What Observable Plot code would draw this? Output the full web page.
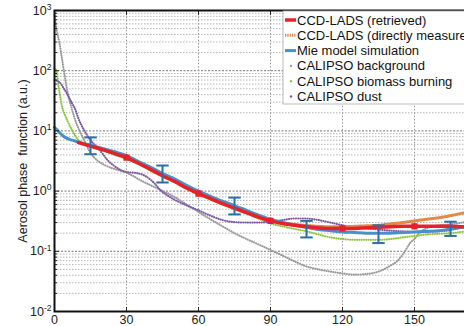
<!DOCTYPE html>
<html><head><meta charset="utf-8">
<script src="https://cdn.jsdelivr.net/npm/d3@7"></script>
<script src="https://cdn.jsdelivr.net/npm/@observablehq/plot@0.6"></script>
<style>
html,body{margin:0;padding:0;overflow:hidden;background:#fff;width:464px;height:326px}
#chart svg{max-width:none !important;display:block}
</style></head><body><div id="chart"></div>
<script>
// ---- data ----
const mieAngle = [0,1,2,4,6,8,10,12,15,20,25,30,35,40,45,50,55,60,65,70,75,80,85,90,95,100,105,110,115,120,125,130,135,140,145,150,155,160,165,170,175,180];
const mieValue = [11.5,10.5,9.5,8.0,7.3,6.9,6.5,6.2,5.8,5.1,4.5,3.9,3.1,2.5,1.96,1.6,1.25,1.0,0.82,0.68,0.575,0.48,0.40,0.34,0.30,0.27,0.25,0.23,0.22,0.21,0.205,0.2,0.2,0.2,0.205,0.21,0.215,0.22,0.235,0.25,0.26,0.27];
const mieErrAngle = [15,45,75,105,135,165];
const mieErrLow  = [4.1,1.39,0.41,0.17,0.137,0.18];
const mieErrHigh = [7.8,2.66,0.78,0.32,0.27,0.31];

const retAngle = [10,15,20,25,30,35,40,45,50,55,60,65,70,75,80,85,90,95,100,105,110,115,120,125,130,135,140,145,150,155,160,165,170,175,180];
const retValue = [6.4,5.6,4.9,4.2,3.6,2.9,2.3,1.8,1.45,1.13,0.91,0.75,0.62,0.52,0.44,0.37,0.32,0.29,0.27,0.255,0.245,0.24,0.24,0.24,0.245,0.25,0.255,0.26,0.26,0.26,0.26,0.26,0.255,0.255,0.25];
const retMarkAngle = [30,60,90,120,150];
const retMarkValue = [3.6,0.91,0.32,0.24,0.26];

const measAngle = [90,100,110,115,120,125,130,135,140,145,150,155,160,165,170,175,180];
const measValue = [0.32,0.28,0.26,0.255,0.255,0.26,0.265,0.27,0.285,0.30,0.32,0.34,0.36,0.39,0.43,0.47,0.5];

const bgAngle = [0,0.5,1,2,3,4,5,6,7,8,10,12,15,18,21,24,28,32,36,42,50,55,60,65,70,75,80,85,90,95,100,105,110,115,120,125,130,135,140,143,146,148,150,152.5,155,160,165,170,175,180];
const bgValue = [850,600,450,300,170,95,55,35,25,18,11,7.5,4.3,3.2,2.7,2.4,2.15,1.85,1.5,1.15,0.8,0.6,0.45,0.34,0.26,0.2,0.16,0.13,0.105,0.085,0.068,0.056,0.05,0.046,0.043,0.041,0.042,0.046,0.058,0.07,0.1,0.135,0.16,0.21,0.24,0.27,0.28,0.3,0.32,0.34];

const bbAngle = [0,0.8,1.7,2.5,3.3,4,5.3,7.5,9.5,12,15,20,25,30,35,40,45,50,55,60,65,70,75,80,85,90,95,100,105,110,115,120,125,130,135,140,145,150,155,160,165,170,175,180];
const bbValue = [110,100,55,35,24,20,15,10,7.4,6.3,5.5,4.7,4.0,3.4,2.8,2.2,1.75,1.4,1.1,0.88,0.72,0.6,0.5,0.42,0.35,0.29,0.26,0.235,0.215,0.19,0.17,0.16,0.155,0.155,0.155,0.16,0.17,0.18,0.19,0.195,0.2,0.21,0.22,0.23];

const dustAngle = [0,1,2,3,4,5,6,7.5,9,10,11,12.5,14,16,18,20,22,25,28,31,34,37,40,42,44,47,50,55,60,65,70,75,80,85,90,95,100,105,110,115,120,125,130,135,140,145,150,155,160,165,170,175,180];
const dustValue = [70,68,65,58,50,43,36,28,21,16,13,10,8,6.3,5.2,4.2,3.3,2.6,2.2,2.05,2.0,1.85,1.55,1.3,1.05,0.85,0.72,0.58,0.48,0.39,0.33,0.305,0.30,0.30,0.31,0.33,0.35,0.35,0.33,0.30,0.27,0.25,0.24,0.23,0.22,0.215,0.21,0.21,0.215,0.225,0.25,0.27,0.29];

const xTicks = [0,30,60,90,120,150,180];
const xLabels = [0,30,60,90,120,150];
const yMajor = [0.01,0.1,1,10,100,1000];
const yMinor = [];
for (let e = -2; e <= 2; e++) for (let k = 2; k <= 9; k++) yMinor.push(k * Math.pow(10, e));

const legendLabels = ["CCD-LADS (retrieved)","CCD-LADS (directly measured)","Mie model simulation","CALIPSO background","CALIPSO biomass burning","CALIPSO dust"];
const colors = {ret:"#e8202a", meas:"#e08a4c", mie:"#4a90c8", mieErr:"#2b6fa6", bg:"#9a9a9a", bb:"#8dc63f", dust:"#7a58a6"};

const pts = (a, v) => a.map((x, i) => ({x, y: v[i]}));
const mie = pts(mieAngle, mieValue);
const ret = pts(retAngle, retValue);
const meas = pts(measAngle, measValue);
const bg = pts(bgAngle, bgValue);
const bb = pts(bbAngle, bbValue);
const dust = pts(dustAngle, dustValue);
const mieErr = mieErrAngle.map((x, i) => ({x, lo: mieErrLow[i], hi: mieErrHigh[i]}));
const retMarks = retMarkAngle.map((x, i) => ({x, y: retMarkValue[i], lo: retMarkValue[i]*0.88, hi: retMarkValue[i]*1.12}));

const hline = {draw(c, s){ const r = Math.sqrt(s); c.moveTo(-r, 0); c.lineTo(r, 0); }};
const dotted = {strokeWidth: 2.1, strokeDasharray: "0.1,2.2", strokeLinecap: "round", curve: "monotone-x"};

const plot = Plot.plot({
  width: 500, height: 326,
  marginLeft: 54, marginRight: 14, marginTop: 10, marginBottom: 15,
  style: {fontFamily: "Arial, 'Liberation Sans', sans-serif", fontSize: "12.5px", color: "#222", background: "#fff", overflow: "hidden"},
  x: {domain: [0, 180]},
  y: {type: "log", domain: [0.01, 1000]},
  marks: [
    Plot.ruleY(yMinor, {stroke: "#b5b5b5", strokeDasharray: "1.5,1.5", strokeWidth: 1}),
    Plot.ruleY(yMajor, {stroke: "#777", strokeDasharray: "2,1.5", strokeWidth: 1}),
    Plot.ruleX(xTicks.slice(1, -1), {stroke: "#999", strokeDasharray: "1.5,1.8", strokeWidth: 1}),
    Plot.line(bg, {x: "x", y: "y", stroke: colors.bg, ...dotted}),
    Plot.line(bb, {x: "x", y: "y", stroke: colors.bb, ...dotted}),
    Plot.line(dust, {x: "x", y: "y", stroke: colors.dust, ...dotted}),
    Plot.line(meas, {x: "x", y: "y", stroke: colors.meas, strokeWidth: 3, strokeDasharray: "1.3,1", curve: "monotone-x"}),
    Plot.line(mie, {x: "x", y: "y", stroke: colors.mie, strokeWidth: 3, curve: "monotone-x"}),
    Plot.line(ret, {x: "x", y: "y", stroke: colors.ret, strokeWidth: 3.5, curve: "monotone-x"}),
    Plot.ruleX(retMarks, {x: "x", y1: "lo", y2: "hi", stroke: colors.ret, strokeWidth: 1.5}),
    Plot.dot(retMarks, {x: "x", y: "y", symbol: "square", r: 3.5, fill: colors.ret}),
    Plot.ruleX(mieErr, {x: "x", y1: "lo", y2: "hi", stroke: colors.mieErr, strokeWidth: 2}),
    Plot.dot(mieErr, {x: "x", y: "lo", symbol: hline, r: 3.5, stroke: colors.mieErr, strokeWidth: 2}),
    Plot.dot(mieErr, {x: "x", y: "hi", symbol: hline, r: 3.5, stroke: colors.mieErr, strokeWidth: 2}),
    Plot.axisY({ticks: yMinor, tickSize: -3, tickFormat: () => "", anchor: "left", label: null}),
    Plot.axisY({ticks: yMajor, tickSize: 0, tickPadding: 3, anchor: "left",
      tickFormat: d => "10^" + Math.round(Math.log10(d)),
      label: "Aerosol phase  function (a.u.)", labelAnchor: "center", labelOffset: 36, labelArrow: "none"}),
    Plot.axisY({ticks: yMajor, tickSize: -5, tickFormat: () => "", anchor: "left", label: null}),
    Plot.axisX({ticks: xTicks, tickSize: -4, tickFormat: () => "", anchor: "bottom", label: null}),
    Plot.axisX({ticks: xTicks, tickSize: -4, tickFormat: () => "", anchor: "top", label: null}),
    Plot.axisX({ticks: xLabels, tickSize: 0, tickPadding: 4, anchor: "bottom", label: null}),
    Plot.frame({stroke: "#111", strokeWidth: 2})
  ]
});

// superscript exponents on y tick labels
plot.querySelectorAll("text").forEach(t => {
  const s = t.textContent;
  if (s.startsWith("10^")) {
    const e = s.slice(3);
    t.textContent = "";
    const ns = "http://www.w3.org/2000/svg";
    const b = document.createElementNS(ns, "tspan"); b.textContent = "10";
    const p = document.createElementNS(ns, "tspan"); p.textContent = e;
    p.setAttribute("dy", "-0.55em"); p.setAttribute("font-size", "8.5px");
    t.appendChild(b); t.appendChild(p);
  }
});

// legend
const svg = d3.select(plot);
const lg = svg.append("g").attr("font-family", "Arial, 'Liberation Sans', sans-serif").attr("font-size", "13px").attr("text-anchor", "start");
lg.append("rect").attr("x", 283).attr("y", 11).attr("width", 260).attr("height", 93)
  .attr("fill", "#fff").attr("stroke", "#aaa").attr("stroke-width", 0.8);
const sw = [
  {type: "line", color: colors.ret, w: 3.5, dash: null},
  {type: "line", color: colors.meas, w: 3, dash: "1.3,1"},
  {type: "line", color: colors.mie, w: 3, dash: null},
  {type: "dot", color: colors.bg},
  {type: "dot", color: colors.bb},
  {type: "dot", color: colors.dust}
];
legendLabels.forEach((lab, i) => {
  const y = 20 + i * 15.3;
  const s = sw[i];
  if (s.type === "line") {
    const l = lg.append("line").attr("x1", 285).attr("x2", 296).attr("y1", y).attr("y2", y)
      .attr("stroke", s.color).attr("stroke-width", s.w);
    if (s.dash) l.attr("stroke-dasharray", s.dash);
  } else {
    lg.append("circle").attr("cx", 291).attr("cy", y).attr("r", 1.2).attr("fill", s.color);
  }
  lg.append("text").attr("x", 297).attr("y", y).attr("dy", "0.35em").attr("fill", "#111").text(lab);
});

document.getElementById("chart").appendChild(plot);
</script></body></html>
